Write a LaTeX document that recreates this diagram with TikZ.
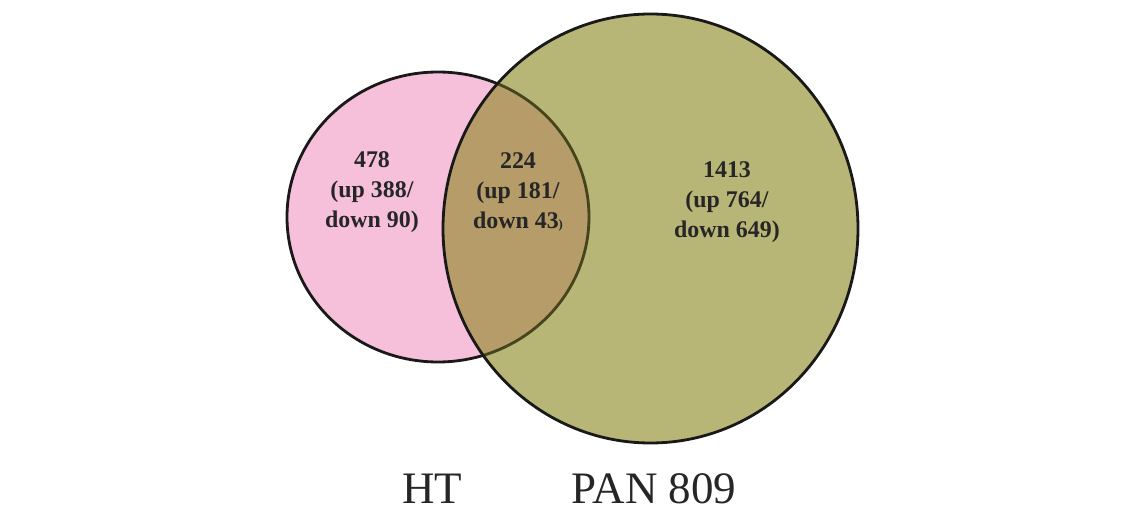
\documentclass[tikz,border=0pt]{standalone}
\usepackage{fontspec}
\setmainfont{Liberation Serif}
\usetikzlibrary{positioning}
\definecolor{htpink}{HTML}{F6C0DA}
\definecolor{panolive}{HTML}{B8B676}
\definecolor{ovlbrown}{HTML}{B59C68}
\definecolor{ovledge}{HTML}{45441C}

\begin{document}
\begin{tikzpicture}[
  x=0.025cm, y=0.025cm,
  cnt/.style={font=\fontsize{17}{21.5}\selectfont\bfseries, align=center, text=black!85, anchor=center},
  lbl/.style={font=\fontsize{32}{36}\selectfont, text=black!85, anchor=base, inner sep=0pt},
  rim/.style={line width=2pt, draw=black!90}
]
\useasboundingbox (0,0) rectangle (1140,514);
% HT set
\fill[htpink] (438,297) ellipse [x radius=151, y radius=145];
\draw[rim] (438,297) ellipse [x radius=151, y radius=145];
% PAN 809 set
\fill[panolive] (650.5,285.5) ellipse [x radius=207.5, y radius=214.5];
% Overlap of both sets
\begin{scope}
  \clip (650.5,285.5) ellipse [x radius=207.5, y radius=214.5];
  \fill[ovlbrown] (438,297) ellipse [x radius=151, y radius=145];
  \draw[rim, draw=ovledge] (438,297) ellipse [x radius=151, y radius=145];
\end{scope}
\draw[rim] (650.5,285.5) ellipse [x radius=207.5, y radius=214.5];
% Counts
\node[cnt] (htonly) at (372,322) {478\\(up 388/\\down 90)};
\node[cnt] (both) at (518,322) {224\\(up 181/\\down 43{\small)}};
\node[cnt] (panonly) at (727,312) {1413\\(up 764/\\down 649)};
% Set labels
\node[lbl] (ht) at (432,10) {HT};
\node[lbl] (pan) at (654,10) {PAN 809};
\end{tikzpicture}
\end{document}
